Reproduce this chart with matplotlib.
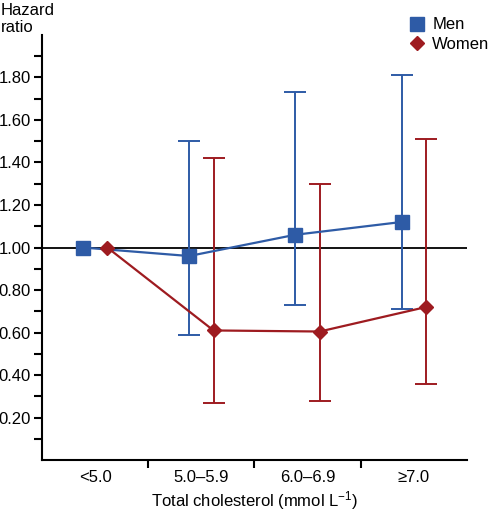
import numpy as np
import matplotlib.pyplot as plt

plt.rcParams['font.family'] = ['Liberation Sans', 'DejaVu Sans']
plt.rcParams['mathtext.fontset'] = 'custom'
plt.rcParams['mathtext.rm'] = 'Liberation Sans'
plt.rcParams['mathtext.default'] = 'regular'

categories = ['<5.0', '5.0\u20135.9', '6.0\u20136.9', '\u22657.0']
men_hr = [1.00, 0.96, 1.06, 1.12]
men_low = [1.00, 0.59, 0.73, 0.71]
men_high = [1.00, 1.50, 1.73, 1.81]
women_hr = [1.00, 0.61, 0.605, 0.72]
women_low = [1.00, 0.27, 0.28, 0.36]
women_high = [1.00, 1.42, 1.30, 1.51]

blue = '#2E5BA6'
red = '#9E1B20'
fs = 12

fig = plt.figure(figsize=(4.94, 5.13), dpi=100)
ax = fig.add_axes([0.085, 0.103, 0.86, 0.829])

x = np.arange(len(categories))
off = 0.115

ax.axhline(1.0, color='black', lw=1.3, zorder=1)

def draw(xs, hr, low, high, color, marker, ms, label):
    hr = np.array(hr)
    yerr = [hr - np.array(low), np.array(high) - hr]
    ax.errorbar(xs[1:], hr[1:], yerr=[yerr[0][1:], yerr[1][1:]], fmt='none',
                ecolor=color, elinewidth=1.4, capsize=8, capthick=1.4, zorder=2)
    ax.plot(xs, hr, color=color, lw=1.6, marker=marker, ms=ms,
            markerfacecolor=color, markeredgecolor=color, label=label, zorder=3)

draw(x - off, men_hr, men_low, men_high, blue, 's', 9.5, 'Men')
draw(x + off, women_hr, women_low, women_high, red, 'D', 7.5, 'Women')

ax.set_xlim(-0.5, 3.5)
ax.set_ylim(0, 2.0)
ax.set_yticks(np.arange(0.2, 1.81, 0.2))
ax.set_yticklabels(['%.2f' % v for v in np.arange(0.2, 1.81, 0.2)])
ax.set_yticks([0.1, 0.3, 0.5, 0.7, 0.9, 1.1, 1.3, 1.5, 1.7, 1.9], minor=True)
ax.tick_params(axis='y', which='both', direction='out', length=6, width=1.5,
               labelsize=fs, pad=2)
ax.set_xticks([0.5, 1.5, 2.5])
ax.set_xticklabels([])
ax.set_xticks(x, minor=True)
ax.set_xticklabels(categories, minor=True)
ax.tick_params(axis='x', which='major', direction='out', length=6, width=1.5)
ax.tick_params(axis='x', which='minor', length=0, pad=7, labelsize=fs)

for s in ['top', 'right']:
    ax.spines[s].set_visible(False)
for s in ['left', 'bottom']:
    ax.spines[s].set_linewidth(1.5)

ax.set_xlabel('Total cholesterol (mmol L$^{-1}$)', fontsize=fs, labelpad=3)
fig.text(0.002, 0.995, 'Hazard\nratio', ha='left', va='top', fontsize=fs, linespacing=1.2)

ax.legend(loc='upper left', bbox_to_anchor=(0.868, 1.041), frameon=False,
          fontsize=fs, handlelength=0.8, handletextpad=0.5, labelspacing=0.25,
          borderaxespad=0, borderpad=0)
leg = ax.get_legend()
for h in leg.legend_handles:
    h.set_linestyle('none')

fig.savefig('out.png', dpi=100)
